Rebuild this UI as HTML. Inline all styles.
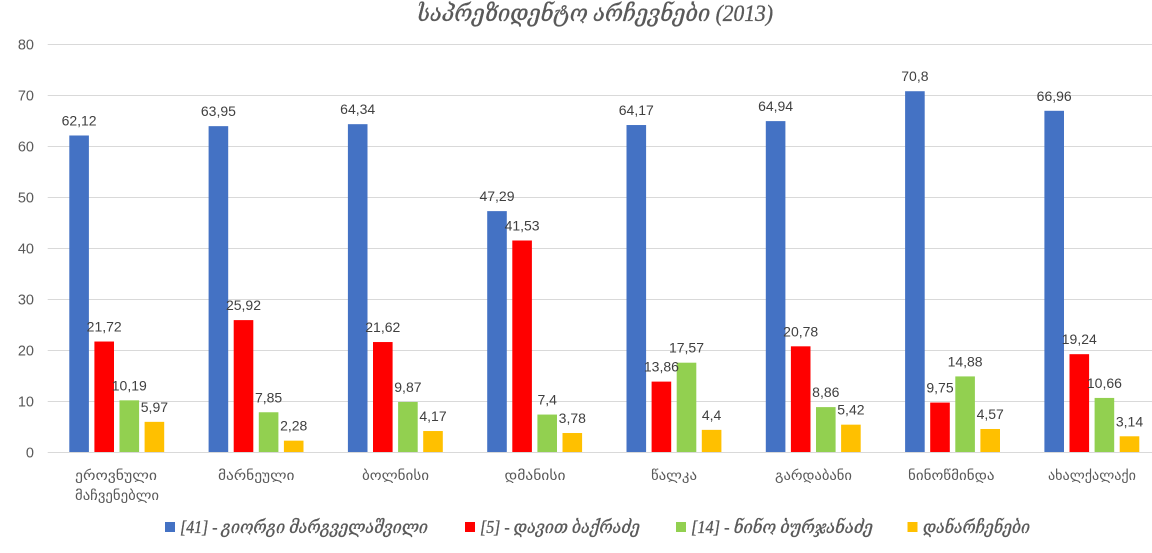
<!DOCTYPE html>
<html><head><meta charset="utf-8"><style>
html,body{margin:0;padding:0;background:#fff;}
svg{display:block;}
.v{font-family:"Liberation Sans","DejaVu Sans",sans-serif;font-size:14px;fill:#404040;text-anchor:middle;}
.ax{font-family:"Liberation Sans","DejaVu Sans",sans-serif;font-size:14.5px;fill:#595959;text-anchor:end;}
.cat{font-family:"Liberation Sans","DejaVu Sans",sans-serif;font-size:14px;fill:#595959;}
.it{font-family:"Liberation Serif","DejaVu Serif","DejaVu Sans",serif;font-style:italic;fill:#595959;stroke:#595959;stroke-width:0.35px;}
</style></head><body>
<svg width="1152" height="553" viewBox="0 0 1152 553" xmlns="http://www.w3.org/2000/svg">
<rect width="1152" height="553" fill="#fff"/>
<text class="it" x="417" y="21" font-size="23" textLength="356" lengthAdjust="spacingAndGlyphs">საპრეზიდენტო არჩევნები (2013)</text>
<g stroke="#D9D9D9" stroke-width="1">
<line x1="47.7" y1="44.5" x2="1152" y2="44.5"/>
<line x1="47.7" y1="95.5" x2="1152" y2="95.5"/>
<line x1="47.7" y1="146.5" x2="1152" y2="146.5"/>
<line x1="47.7" y1="197.5" x2="1152" y2="197.5"/>
<line x1="47.7" y1="248.5" x2="1152" y2="248.5"/>
<line x1="47.7" y1="299.5" x2="1152" y2="299.5"/>
<line x1="47.7" y1="350.5" x2="1152" y2="350.5"/>
<line x1="47.7" y1="401.5" x2="1152" y2="401.5"/>
</g>
<g class="ax">
<text x="34" y="49.5">80</text>
<text x="34" y="100.5">70</text>
<text x="34" y="151.5">60</text>
<text x="34" y="202.5">50</text>
<text x="34" y="253.5">40</text>
<text x="34" y="304.5">30</text>
<text x="34" y="355.5">20</text>
<text x="34" y="406.5">10</text>
<text x="34" y="457.5">0</text>
</g>
<!-- Blue -->
<g fill="#4472C4">
<rect x="69.3" y="135.49" width="19.6" height="316.81"/>
<rect x="208.6" y="126.15" width="19.6" height="326.15"/>
<rect x="347.9" y="124.17" width="19.6" height="328.13"/>
<rect x="487.2" y="211.12" width="19.6" height="241.18"/>
<rect x="626.5" y="125.03" width="19.6" height="327.27"/>
<rect x="765.8" y="121.11" width="19.6" height="331.19"/>
<rect x="905.1" y="91.22" width="19.6" height="361.08"/>
<rect x="1044.4" y="110.80" width="19.6" height="341.50"/>
</g>
<!-- Red -->
<g fill="#FF0000">
<rect x="94.4" y="341.53" width="19.6" height="110.77"/>
<rect x="233.7" y="320.11" width="19.6" height="132.19"/>
<rect x="373.0" y="342.04" width="19.6" height="110.26"/>
<rect x="512.3" y="240.50" width="19.6" height="211.80"/>
<rect x="651.6" y="381.61" width="19.6" height="70.69"/>
<rect x="790.9" y="346.32" width="19.6" height="105.98"/>
<rect x="930.2" y="402.57" width="19.6" height="49.73"/>
<rect x="1069.5" y="354.18" width="19.6" height="98.12"/>
</g>
<!-- Green -->
<g fill="#92D050">
<rect x="119.5" y="400.33" width="19.6" height="51.97"/>
<rect x="258.8" y="412.26" width="19.6" height="40.04"/>
<rect x="398.1" y="401.96" width="19.6" height="50.34"/>
<rect x="537.4" y="414.56" width="19.6" height="37.74"/>
<rect x="676.7" y="362.69" width="19.6" height="89.61"/>
<rect x="816.0" y="407.11" width="19.6" height="45.19"/>
<rect x="955.3" y="376.41" width="19.6" height="75.89"/>
<rect x="1094.6" y="397.93" width="19.6" height="54.37"/>
</g>
<!-- Yellow -->
<g fill="#FFC000">
<rect x="144.6" y="421.85" width="19.6" height="30.45"/>
<rect x="283.9" y="440.67" width="19.6" height="11.63"/>
<rect x="423.2" y="431.03" width="19.6" height="21.27"/>
<rect x="562.5" y="433.02" width="19.6" height="19.28"/>
<rect x="701.8" y="429.86" width="19.6" height="22.44"/>
<rect x="841.1" y="424.66" width="19.6" height="27.64"/>
<rect x="980.4" y="428.99" width="19.6" height="23.31"/>
<rect x="1119.7" y="436.29" width="19.6" height="16.01"/>
</g>
<line x1="47.7" y1="452.5" x2="1152" y2="452.5" stroke="#D9D9D9" stroke-width="1"/>
<!-- value labels -->
<g class="v">
<text x="79.1" y="125.5">62,12</text>
<text x="218.4" y="116.2">63,95</text>
<text x="357.7" y="114.2">64,34</text>
<text x="497.0" y="201.1">47,29</text>
<text x="636.3" y="115.0">64,17</text>
<text x="775.6" y="111.1">64,94</text>
<text x="914.9" y="81.2">70,8</text>
<text x="1054.2" y="100.8">66,96</text>

<text x="104.2" y="331.5">21,72</text>
<text x="243.5" y="310.1">25,92</text>
<text x="382.8" y="332.0">21,62</text>
<text x="522.1" y="230.5">41,53</text>
<text x="661.4" y="371.6">13,86</text>
<text x="800.7" y="336.3">20,78</text>
<text x="940.0" y="392.6">9,75</text>
<text x="1079.3" y="344.2">19,24</text>

<text x="129.3" y="390.3">10,19</text>
<text x="268.6" y="402.3">7,85</text>
<text x="407.9" y="392.0">9,87</text>
<text x="547.2" y="404.6">7,4</text>
<text x="686.5" y="352.7">17,57</text>
<text x="825.8" y="397.1">8,86</text>
<text x="965.1" y="366.4">14,88</text>
<text x="1104.4" y="387.9">10,66</text>

<text x="154.4" y="411.9">5,97</text>
<text x="293.7" y="430.7">2,28</text>
<text x="433.0" y="421.0">4,17</text>
<text x="572.3" y="423.0">3,78</text>
<text x="711.6" y="419.9">4,4</text>
<text x="850.9" y="414.7">5,42</text>
<text x="990.2" y="419.0">4,57</text>
<text x="1129.5" y="426.3">3,14</text>
</g>
<!-- category labels -->
<g class="cat">
<text x="75" y="480" textLength="82" lengthAdjust="spacingAndGlyphs">ეროვნული</text>
<text x="75" y="500" textLength="84" lengthAdjust="spacingAndGlyphs">მაჩვენებლი</text>
<text x="218" y="480" textLength="76.5" lengthAdjust="spacingAndGlyphs">მარნეული</text>
<text x="362" y="480" textLength="67" lengthAdjust="spacingAndGlyphs">ბოლნისი</text>
<text x="504.5" y="480" textLength="61" lengthAdjust="spacingAndGlyphs">დმანისი</text>
<text x="651" y="480" textLength="46" lengthAdjust="spacingAndGlyphs">წალკა</text>
<text x="775" y="480" textLength="77" lengthAdjust="spacingAndGlyphs">გარდაბანი</text>
<text x="908" y="480" textLength="86.5" lengthAdjust="spacingAndGlyphs">ნინოწმინდა</text>
<text x="1048" y="480" textLength="88" lengthAdjust="spacingAndGlyphs">ახალქალაქი</text>
</g>
<!-- legend -->
<rect x="165" y="522" width="10" height="10" fill="#4472C4"/>
<text class="it" x="180" y="533" font-size="18" textLength="248" lengthAdjust="spacingAndGlyphs">[41] - გიორგი მარგველაშვილი</text>
<rect x="465" y="522" width="10" height="10" fill="#FF0000"/>
<text class="it" x="480" y="533" font-size="18" textLength="160" lengthAdjust="spacingAndGlyphs">[5] - დავით ბაქრაძე</text>
<rect x="676" y="522" width="10" height="10" fill="#92D050"/>
<text class="it" x="691" y="533" font-size="18" textLength="182" lengthAdjust="spacingAndGlyphs">[14] - ნინო ბურჯანაძე</text>
<rect x="907.5" y="522" width="10" height="10" fill="#FFC000"/>
<text class="it" x="923" y="533" font-size="18" textLength="107" lengthAdjust="spacingAndGlyphs">დანარჩენები</text>
</svg>
</body></html>
